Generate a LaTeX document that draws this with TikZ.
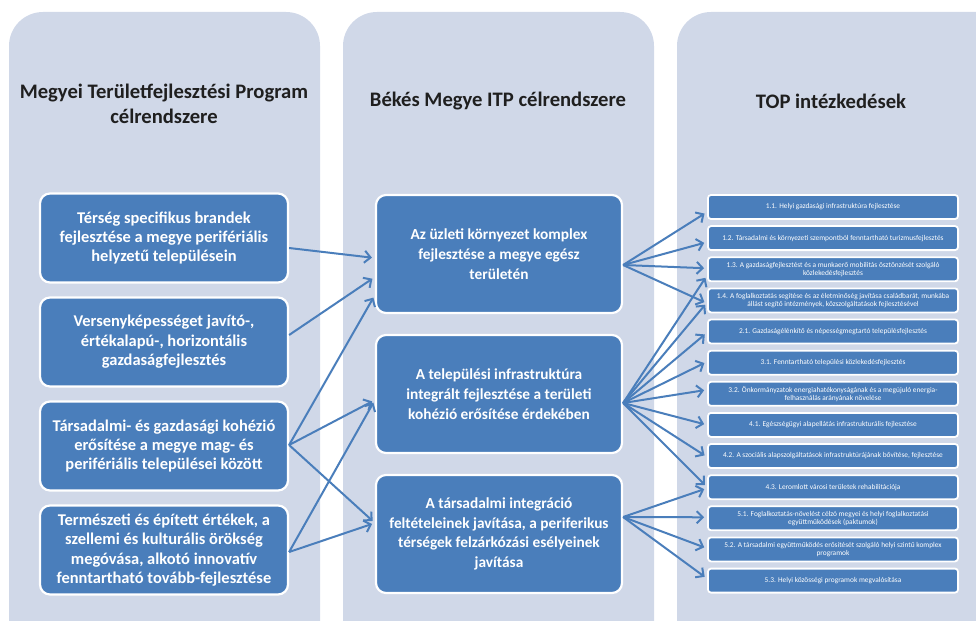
\documentclass[tikz,border=0pt]{standalone}
\usepackage{fontspec}
\setmainfont{Carlito}
\usetikzlibrary{arrows.meta,calc}
\definecolor{panelbg}{RGB}{208,216,232}
\definecolor{boxblue}{RGB}{74,126,187}
\definecolor{arrblue}{RGB}{74,126,187}
\begin{document}
\begin{tikzpicture}[x=1bp,y=-1bp,
  panel/.style={fill=panelbg,draw=none,rounded corners=34bp},
  title/.style={font=\fontsize{20.7}{25}\selectfont\bfseries,text=black!88,align=center},
  bigbox/.style={fill=boxblue,draw=white,line width=2.2bp,rounded corners=10bp,
     text=white,align=center,font=\fontsize{16.5}{19.5}\selectfont\bfseries,inner sep=2bp},
  midbox/.style={bigbox,font=\fontsize{15.4}{19.8}\selectfont\bfseries,
     minimum width=246bp,minimum height=118bp},
  smallbox/.style={fill=boxblue,draw=white,line width=1.8bp,rounded corners=3bp,
     text=white,align=center,font=\fontsize{7.4}{8.2}\selectfont,inner sep=1bp,
     minimum width=250bp,minimum height=24bp},
  link/.style={draw=arrblue,line width=2bp,-{Straight Barb[length=6bp,width=12bp,line width=2bp]},shorten >=3bp}
]
\useasboundingbox (0,0) rectangle (976,621);
\begin{scope}
\clip (0,0) rectangle (976,621);
\path[panel] (9,680) -- (9,12) -- (320,12) -- (320,680) -- cycle;
\path[panel] (343,680) -- (343,12) -- (654,12) -- (654,680) -- cycle;
\path[panel] (677,680) -- (677,12) -- (1030,12) -- (1030,680) -- cycle;
\end{scope}

\node[title] (t1) at (164,104) {Megyei Területfejlesztési Program\\célrendszere};
\node[title] (t2) at (498,101) {Békés Megye ITP célrendszere};
\node[title] (t3) at (831,101) {TOP intézkedések};

% left column
\node[bigbox,minimum width=248bp,minimum height=89bp] (L1) at (164,238) {Térség specifikus brandek\\fejlesztése a megye perifériális\\helyzetű településein};
\node[bigbox,minimum width=248bp,minimum height=89bp] (L2) at (164,342) {Versenyképességet javító-,\\értékalapú-, horizontális\\gazdaságfejlesztés};
\node[bigbox,minimum width=248bp,minimum height=89bp] (L3) at (164,446) {Társadalmi- és gazdasági kohézió\\erősítése a megye mag- és\\perifériális települései között};
\node[bigbox,minimum width=248bp,minimum height=89bp] (L4) at (164,550) {Természeti és épített értékek, a\\szellemi és kulturális örökség\\megóvása, alkotó innovatív\\fenntartható tovább-fejlesztése};

% middle column
\node[midbox] (M1) at (499,254) {Az üzleti környezet komplex\\fejlesztése a megye egész\\területén};
\node[midbox] (M2) at (499,394) {A települési infrastruktúra\\integrált fejlesztése a területi\\kohézió erősítése érdekében};
\node[midbox] (M3) at (499,534) {A társadalmi integráció\\feltételeinek javítása, a periferikus\\térségek felzárkózási esélyeinek\\javítása};

% right column
\node[smallbox] (R1) at (833,207.0) {1.1. Helyi gazdasági infrastruktúra fejlesztése};
\node[smallbox] (R2) at (833,238.1) {1.2. Társadalmi és környezeti szempontból fenntartható turizmusfejlesztés};
\node[smallbox] (R3) at (833,269.3) {1.3. A gazdaságfejlesztést és a munkaerő mobilitás ösztönzését szolgáló\\közlekedésfejlesztés};
\node[smallbox] (R4) at (833,300.4) {1.4. A foglalkoztatás segítése és az életminőség javítása családbarát, munkába\\állást segítő intézmények, közszolgáltatások fejlesztésével};
\node[smallbox] (R5) at (833,331.5) {2.1. Gazdaságélénkítő és népességmegtartó településfejlesztés};
\node[smallbox] (R6) at (833,362.7) {3.1. Fenntartható települési közlekedésfejlesztés};
\node[smallbox] (R7) at (833,393.8) {3.2. Önkormányzatok energiahatékonyságának és a megújuló energia-\\felhasználás arányának növelése};
\node[smallbox] (R8) at (833,424.9) {4.1. Egészségügyi alapellátás infrastrukturális fejlesztése};
\node[smallbox] (R9) at (833,456.0) {4.2. A szociális alapszolgáltatások infrastruktúrájának bővítése, fejlesztése};
\node[smallbox] (R10) at (833,487.2) {4.3. Leromlott városi területek rehabilitációja};
\node[smallbox] (R11) at (833,518.3) {5.1. Foglalkoztatás-növelést célzó megyei és helyi foglalkoztatási\\együttműködések (paktumok)};
\node[smallbox] (R12) at (833,549.4) {5.2. A társadalmi együttműködés erősítését szolgáló helyi szintű komplex\\programok};
\node[smallbox] (R13) at (833,580.6) {5.3. Helyi közösségi programok megvalósítása};

% left -> middle
\draw[link] ($(L1.east)+(0,10)$) -- ($(M1.west)+(0,4)$);
\draw[link] ($(L2.east)+(0,-7)$) -- ($(M1.west)+(0,23)$);
\draw[link] ($(L3.east)+(0,-1)$) -- ($(M1.west)+(0,41)$);
\draw[link] ($(L3.east)+(0,-1)$) -- ($(M2.west)+(0,6)$);
\draw[link] ($(L3.east)+(0,-1)$) -- ($(M3.west)+(0,-11)$);
\draw[link] ($(L4.east)+(0,2)$) -- ($(M2.west)+(0,6)$);
\draw[link] ($(L4.east)+(0,2)$) -- ($(M3.west)+(0,-11)$);

% middle -> right
\coordinate (s1) at ($(M1.east)+(0,11)$);
\coordinate (s2) at ($(M2.east)+(0,9)$);
\coordinate (s3) at ($(M3.east)+(0,-17)$);
\draw[link] (s1) -- ($(R1.west)+(0,5)$);
\draw[link] (s1) -- ($(R2.west)+(0,4)$);
\draw[link] (s1) -- ($(R3.west)+(0,-1)$);
\draw[link] (s1) -- ($(R4.west)+(0,3)$);
\draw[link] (s2) -- ($(R3.west)+(0,6)$);
\draw[link] (s2) -- ($(R4.west)+(0,2)$);
\draw[link] (s2) -- ($(R5.west)+(0,1)$);
\draw[link] (s2) -- ($(R6.west)+(0,-1)$);
\draw[link] (s2) -- ($(R7.west)+(0,-4)$);
\draw[link] (s2) -- ($(R8.west)+(0,0)$);
\draw[link] (s2) -- ($(R9.west)+(0,1)$);
\draw[link] (s2) -- ($(R10.west)+(0,0)$);
\draw[link] (s3) -- ($(R10.west)+(0,1)$);
\draw[link] (s3) -- ($(R11.west)+(0,-1)$);
\draw[link] (s3) -- ($(R12.west)+(0,-1)$);
\draw[link] (s3) -- ($(R13.west)+(0,-2)$);
\end{tikzpicture}
\end{document}
